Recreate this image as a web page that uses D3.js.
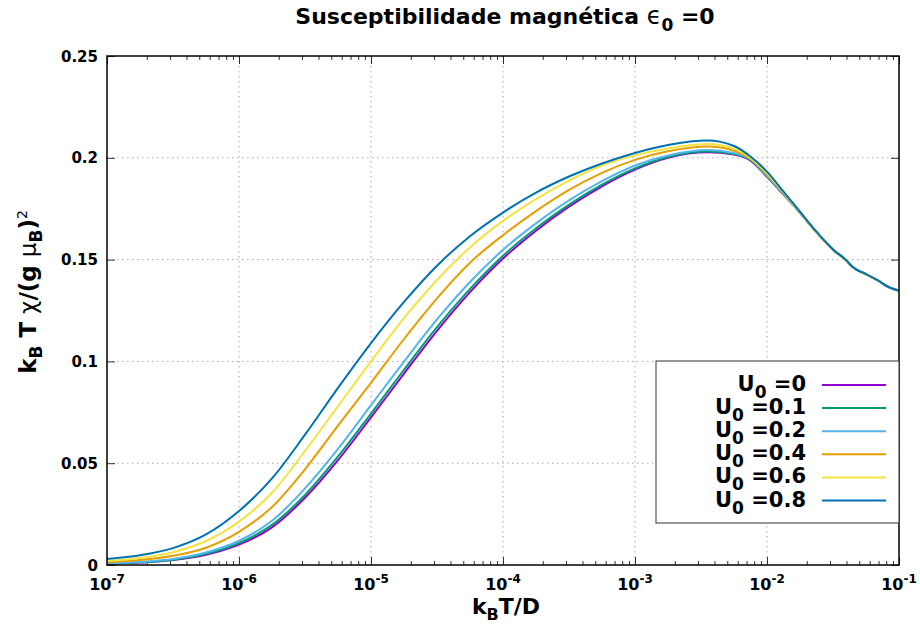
<!DOCTYPE html>
<html>
<head>
<meta charset="utf-8">
<script src="https://cdn.jsdelivr.net/npm/d3@7"></script>
<style>
  body { margin: 0; background: #fff; }
  svg text { font-family: "DejaVu Sans", sans-serif; font-weight: bold; fill: #000; }
</style>
</head>
<body>
<svg id="chart" width="920" height="628"></svg>
<script>
// Temperature grid, given as log10(kB T / D)
const log10kT = [-7, -6.75, -6.5, -6.25, -6, -5.75, -5.5, -5.25, -5, -4.75, -4.5, -4.25, -4,
  -3.75, -3.5, -3.25, -3, -2.75, -2.45, -2.25, -2.13, -2, -1.875, -1.75, -1.625, -1.5,
  -1.38, -1.37, -1.25, -1.13, -1.12, -1.0];

// kB T chi / (g muB)^2 for each U0
const chiU0_0 = [0.0006, 0.0012, 0.0024, 0.0050, 0.0100, 0.0185, 0.0330, 0.0515, 0.0725, 0.0940, 0.1150, 0.1340, 0.1505,
  0.1642, 0.1760, 0.1860, 0.1942, 0.2000, 0.2027, 0.2016, 0.1989, 0.1907, 0.1820, 0.1730, 0.1634, 0.1548,
  0.1483, 0.1475, 0.1428, 0.1385, 0.1380, 0.1347];
const chiU0_01 = [0.0007, 0.0013, 0.0026, 0.0055, 0.0108, 0.0197, 0.0344, 0.0533, 0.0744, 0.0959, 0.1168, 0.1356, 0.1519,
  0.1654, 0.1770, 0.1868, 0.1948, 0.2004, 0.2031, 0.2019, 0.1991, 0.1909, 0.1821, 0.1730, 0.1634, 0.1548,
  0.1483, 0.1475, 0.1428, 0.1385, 0.1380, 0.1347];
const chiU0_02 = [0.0008, 0.0015, 0.0029, 0.0061, 0.0119, 0.0217, 0.0376, 0.0570, 0.0785, 0.0999, 0.1206, 0.1390, 0.1548,
  0.1678, 0.1791, 0.1885, 0.1962, 0.2011, 0.2038, 0.2024, 0.1994, 0.1912, 0.1823, 0.1730, 0.1634, 0.1548,
  0.1483, 0.1475, 0.1428, 0.1385, 0.1380, 0.1347];
const chiU0_04 = [0.0014, 0.0024, 0.0045, 0.0085, 0.0163, 0.0285, 0.0470, 0.0685, 0.0895, 0.1110, 0.1310, 0.1485, 0.1620,
  0.1738, 0.1842, 0.1926, 0.1990, 0.2032, 0.2055, 0.2035, 0.1998, 0.1919, 0.1827, 0.1731, 0.1634, 0.1548,
  0.1483, 0.1475, 0.1428, 0.1385, 0.1380, 0.1347];
const chiU0_06 = [0.0020, 0.0034, 0.0063, 0.0118, 0.0213, 0.0355, 0.0560, 0.0780, 0.1000, 0.1212, 0.1400, 0.1560, 0.1690,
  0.1797, 0.1888, 0.1962, 0.2012, 0.2046, 0.2068, 0.2045, 0.2002, 0.1925, 0.1830, 0.1732, 0.1635, 0.1549,
  0.1483, 0.1476, 0.1428, 0.1386, 0.1381, 0.1348];
const chiU0_08 = [0.0030, 0.0048, 0.0083, 0.0150, 0.0265, 0.0425, 0.0640, 0.0870, 0.1090, 0.1292, 0.1470, 0.1615, 0.1731,
  0.1829, 0.1908, 0.1972, 0.2024, 0.2063, 0.2085, 0.2058, 0.2009, 0.1932, 0.1834, 0.1735, 0.1637, 0.1550,
  0.1484, 0.1476, 0.1429, 0.1386, 0.1381, 0.1348];

const seriesU0 = ["0", "0.1", "0.2", "0.4", "0.6", "0.8"];
const seriesValues = [chiU0_0, chiU0_01, chiU0_02, chiU0_04, chiU0_06, chiU0_08];
const seriesColors = ["#9400d3", "#009e73", "#56b4e9", "#e69f00", "#f0e442", "#0072b2"];

const xTickExponents = [-7, -6, -5, -4, -3, -2, -1];
const yTickValues = [0, 0.05, 0.1, 0.15, 0.2, 0.25];
const yTickLabels = ["0", "0.05", "0.1", "0.15", "0.2", "0.25"];

const svg = d3.select("#chart");
const plotLeft = 107, plotRight = 899, plotTop = 56, plotBottom = 565;

const x = d3.scaleLog().domain([1e-7, 1e-1]).range([plotLeft, plotRight]);
const y = d3.scaleLinear().domain([0, 0.25]).range([plotBottom, plotTop]);

const decades = xTickExponents.map(e => Math.pow(10, e));
const minors = [];
xTickExponents.slice(0, -1).forEach(e => {
  for (let m = 2; m <= 9; m++) minors.push(m * Math.pow(10, e));
});

// dotted grid
const grid = svg.append("g").attr("stroke", "#a8a8a8").attr("stroke-width", 1)
  .attr("stroke-dasharray", "1.5,3.5");
decades.slice(1, -1).forEach(v => {
  grid.append("line").attr("x1", x(v)).attr("x2", x(v)).attr("y1", plotTop).attr("y2", plotBottom);
});
yTickValues.slice(1, -1).forEach(v => {
  grid.append("line").attr("x1", plotLeft).attr("x2", plotRight).attr("y1", y(v)).attr("y2", y(v));
});

// inward ticks on all four sides
function styleAxis(g) {
  g.select(".domain").remove();
  g.selectAll(".tick line").attr("stroke", "#333").attr("stroke-width", 1);
}
svg.append("g").attr("transform", `translate(0,${plotBottom})`)
  .call(d3.axisBottom(x).tickValues(decades).tickSize(-8).tickFormat("")).call(styleAxis);
svg.append("g").attr("transform", `translate(0,${plotBottom})`)
  .call(d3.axisBottom(x).tickValues(minors).tickSize(-4).tickFormat("")).call(styleAxis);
svg.append("g").attr("transform", `translate(0,${plotTop})`)
  .call(d3.axisTop(x).tickValues(decades).tickSize(-8).tickFormat("")).call(styleAxis);
svg.append("g").attr("transform", `translate(0,${plotTop})`)
  .call(d3.axisTop(x).tickValues(minors).tickSize(-4).tickFormat("")).call(styleAxis);
svg.append("g").attr("transform", `translate(${plotLeft},0)`)
  .call(d3.axisLeft(y).tickValues(yTickValues).tickSize(-8).tickFormat("")).call(styleAxis);
svg.append("g").attr("transform", `translate(${plotRight},0)`)
  .call(d3.axisRight(y).tickValues(yTickValues).tickSize(-8).tickFormat("")).call(styleAxis);

// curves
svg.append("clipPath").attr("id", "plotClip").append("rect")
  .attr("x", plotLeft).attr("y", plotTop).attr("width", plotRight - plotLeft).attr("height", plotBottom - plotTop);
const line = d3.line()
  .x(d => x(Math.pow(10, d[0])))
  .y(d => y(d[1]))
  .curve(d3.curveMonotoneX);
const curves = svg.append("g").attr("clip-path", "url(#plotClip)");
seriesValues.forEach((vals, i) => {
  curves.append("path")
    .datum(log10kT.map((lx, j) => [lx, vals[j]]))
    .attr("d", line)
    .attr("fill", "none")
    .attr("stroke", seriesColors[i])
    .attr("stroke-width", 2);
});

// frame
svg.append("rect").attr("x", plotLeft).attr("y", plotTop)
  .attr("width", plotRight - plotLeft).attr("height", plotBottom - plotTop)
  .attr("fill", "none").attr("stroke", "#000").attr("stroke-width", 1.5);

// x tick labels 10^n
xTickExponents.forEach(e => {
  const t = svg.append("text").attr("x", x(Math.pow(10, e))).attr("y", 590)
    .attr("text-anchor", "middle").style("font-size", "16px");
  t.append("tspan").text("10");
  t.append("tspan").attr("dy", -7).style("font-size", "12px").text(String(e));
});

// y tick labels
yTickValues.forEach((v, i) => {
  svg.append("text").attr("x", 98).attr("y", y(v) + 5.5)
    .attr("text-anchor", "end").style("font-size", "15px").text(yTickLabels[i]);
});

// title
const title = svg.append("text").attr("x", 505).attr("y", 24)
  .attr("text-anchor", "middle").style("font-size", "22px");
title.append("tspan").text("Susceptibilidade magnética ");
title.append("tspan").style("font-weight", "normal").style("font-size", "24px").text("ϵ");
title.append("tspan").attr("dy", 7).style("font-size", "17px").text("0");
title.append("tspan").attr("dy", -7).text(" =0");

// x axis label
const xl = svg.append("text").attr("x", 506).attr("y", 614)
  .attr("text-anchor", "middle").style("font-size", "22px");
xl.append("tspan").text("k");
xl.append("tspan").attr("dy", 6).style("font-size", "16px").text("B");
xl.append("tspan").attr("dy", -6).text("T/D");

// y axis label
const yl = svg.append("text").attr("transform", "translate(36,292) rotate(-90)")
  .attr("text-anchor", "middle").style("font-size", "23px");
yl.append("tspan").text("k");
yl.append("tspan").attr("dy", 6).style("font-size", "17px").text("B");
yl.append("tspan").attr("dy", -6).text(" T ");
yl.append("tspan").style("font-weight", "normal").text("χ");
yl.append("tspan").text("/(g ");
yl.append("tspan").style("font-weight", "normal").text("μ");
yl.append("tspan").attr("dy", 6).style("font-size", "17px").text("B");
yl.append("tspan").attr("dy", -6).text(")");
yl.append("tspan").attr("dy", -9).style("font-size", "14px").style("font-weight", "normal").text("2");

// legend
const lg = svg.append("g");
lg.append("rect").attr("x", 656).attr("y", 361).attr("width", 243).attr("height", 162)
  .attr("fill", "#fff").attr("stroke", "#333").attr("stroke-width", 1);
seriesU0.forEach((u, i) => {
  const ly = 385 + i * 23.1;
  lg.append("line").attr("x1", 822).attr("x2", 886).attr("y1", ly).attr("y2", ly)
    .attr("stroke", seriesColors[i]).attr("stroke-width", 2);
  const t = lg.append("text").attr("x", 806).attr("y", ly + 6)
    .attr("text-anchor", "end").style("font-size", "21px");
  t.append("tspan").text("U");
  t.append("tspan").attr("dy", 7).style("font-size", "17px").text("0");
  t.append("tspan").attr("dy", -7).text(" =" + u);
});
</script>
</body>
</html>
